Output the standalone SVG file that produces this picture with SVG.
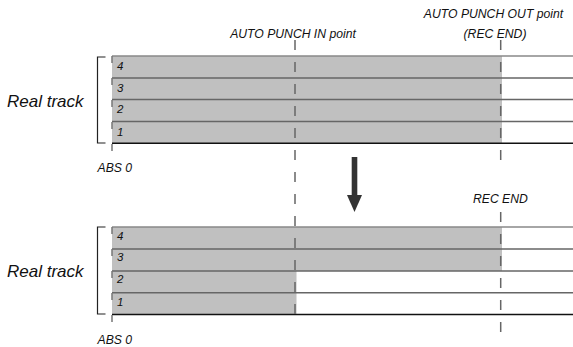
<svg xmlns="http://www.w3.org/2000/svg" width="573" height="347" viewBox="0 0 573 347">
<style>
text{font-family:"Liberation Sans",Arial,sans-serif;font-style:italic;fill:#111}
.lbl{font-size:12.2px}
.num{font-size:11.5px}
.big{font-size:17px}
.fill{fill:#c0c0c0}
.ln{stroke:#666;stroke-width:1.5;fill:none}
.lt{stroke:#888;stroke-width:1.5;fill:none}
.lb{stroke:#111;stroke-width:1.5;fill:none}
.dash{stroke:#666;stroke-width:1.5;stroke-dasharray:10 12;fill:none}
.edge{stroke:#777;stroke-width:1.5;stroke-dasharray:7 15;fill:none}
.br{stroke:#222;stroke-width:1.2;fill:none}
</style>
<g id="top-tracks">
<rect class="fill" x="112" y="56" width="390" height="87"/>
<line class="lt" x1="112" y1="56" x2="573" y2="56"/>
<line class="ln" x1="112" y1="78" x2="573" y2="78"/>
<line class="ln" x1="112" y1="99.5" x2="573" y2="99.5"/>
<line class="ln" x1="112" y1="121.5" x2="573" y2="121.5"/>
<line class="lb" x1="112" y1="143.3" x2="573" y2="143.3"/>
<line class="edge" x1="112" y1="56" x2="112" y2="156"/>
<path class="br" d="M105.5,57 H97.5 V143 H105.5"/>
<text class="num" x="117" y="70">4</text>
<text class="num" x="117" y="91.5">3</text>
<text class="num" x="117" y="113">2</text>
<text class="num" x="117" y="135.5">1</text>
<text class="big" x="7" y="107">Real track</text>
<text class="lbl" x="97.5" y="172">ABS 0</text>
</g>
<g id="bottom-tracks">
<rect class="fill" x="112" y="227" width="390" height="44"/>
<rect class="fill" x="112" y="271" width="184.5" height="43.5"/>
<line class="lt" x1="112" y1="227" x2="573" y2="227"/>
<line class="ln" x1="112" y1="249" x2="573" y2="249"/>
<line class="ln" x1="112" y1="271" x2="573" y2="271"/>
<line class="ln" x1="112" y1="292.8" x2="573" y2="292.8"/>
<line class="lb" x1="112" y1="314.5" x2="573" y2="314.5"/>
<line class="edge" x1="112" y1="227" x2="112" y2="326"/>
<path class="br" d="M105.5,227 H97.5 V314 H105.5"/>
<text class="num" x="117" y="240">4</text>
<text class="num" x="117" y="261">3</text>
<text class="num" x="117" y="283">2</text>
<text class="num" x="117" y="306">1</text>
<text class="big" x="7" y="277">Real track</text>
<text class="lbl" x="97.5" y="344">ABS 0</text>
</g>
<g id="markers">
<line class="dash" x1="295" y1="40" x2="295" y2="316"/>
<line class="dash" x1="500.7" y1="40" x2="500.7" y2="161"/>
<line class="dash" x1="500.7" y1="212" x2="500.7" y2="333"/>
<text class="lbl" x="293" y="37.7" text-anchor="middle">AUTO PUNCH IN point</text>
<text class="lbl" x="493.5" y="17.5" text-anchor="middle">AUTO PUNCH OUT point</text>
<text class="lbl" x="495" y="38" text-anchor="middle">(REC END)</text>
<text class="lbl" x="473" y="203">REC END</text>
</g>
<g id="connectors">
<rect x="351.7" y="157" width="5.6" height="39" fill="#333"/>
<polygon points="347,195 362,195 354.5,212" fill="#333"/>
</g>
</svg>
